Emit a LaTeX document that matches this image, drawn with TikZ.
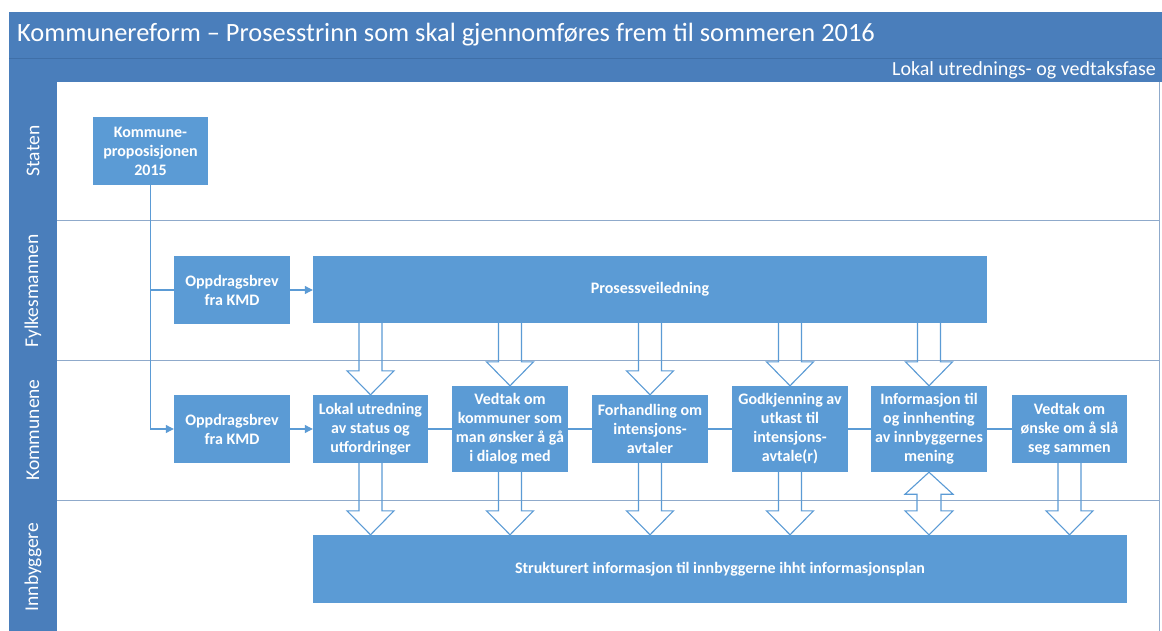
\documentclass[tikz,border=0pt]{standalone}
\usepackage{fontspec}
\setmainfont{Carlito}
\usetikzlibrary{calc,arrows.meta}
\definecolor{hdr}{HTML}{4A7EBB}
\definecolor{hdrdark}{HTML}{3F6FA8}
\definecolor{boxblue}{HTML}{5B9BD5}
\definecolor{lnblue}{HTML}{5B9BD5}
\definecolor{sepcol}{HTML}{8FAACB}
\newcommand\blkdown[2]{%
  \draw[blockarrow] let \p1=(#1), \p2=(#2) in
    (\x2-11.5pt,\y1) -- (\x2-11.5pt,\y2+24pt) -- (\x2-23.5pt,\y2+24pt) -- (\x2,\y2)
    -- (\x2+23.5pt,\y2+24pt) -- (\x2+11.5pt,\y2+24pt) -- (\x2+11.5pt,\y1);}
\begin{document}
\begin{tikzpicture}[x=1pt,y=-1pt,
  stepbox/.style={fill=boxblue, text=white, font=\fontsize{16}{19}\selectfont\bfseries,
    align=center, inner sep=0pt, minimum width=116pt, minimum height=68pt},
  tallbox/.style={stepbox, minimum height=86pt},
  lanelabel/.style={rotate=90, text=white, font=\fontsize{19.5}{22}\selectfont},
  conn/.style={draw=lnblue, line width=1.1pt},
  arr/.style={-{Triangle[length=8pt,width=8pt]}},
  blockarrow/.style={draw=lnblue, line width=1.1pt, line join=miter},
  sepline/.style={draw=sepcol, line width=0.9pt}]
\useasboundingbox (0,0) rectangle (1162,631);
\fill[white] (0,0) rectangle (1162,631);
% header bars and lane column
\fill[hdr] (9,12) rectangle (1162,82);
\draw[hdrdark, line width=0.8pt] (9,58) -- (1162,58);
\fill[hdr] (9,82) rectangle (57,631);
% lane separators and right border
\draw[sepline] (57,220) -- (1160,220);
\draw[sepline] (57,360) -- (1160,360);
\draw[sepline] (57,500) -- (1160,500);
\draw[sepline] (1159,82) -- (1159,631);
% header texts
\node[anchor=west, text=white, font=\fontsize{26.4}{30}\selectfont, inner sep=0pt] (title) at (17,35)
  {Kommunereform – Prosesstrinn som skal gjennomføres frem til sommeren 2016};
\node[anchor=east, text=white, font=\fontsize{20}{22}\selectfont, inner sep=0pt] (phase) at (1156,70)
  {Lokal utrednings- og vedtaksfase};
% lane labels
\node[lanelabel] (lstaten) at (33,151) {Staten};
\node[lanelabel] (lfylke) at (33,291) {Fylkesmannen};
\node[lanelabel] (lkomm) at (33,430) {Kommunene};
\node[lanelabel] (linnb) at (33,567) {Innbyggere};
% boxes
\node[stepbox, minimum width=115pt] (kp) at (150.5,151) {Kommune-\\proposisjonen\\2015};
\node[stepbox] (ob1) at (232,290) {Oppdragsbrev\\fra KMD};
\node[stepbox, minimum width=674pt, minimum height=67pt] (pv) at (650,289.5) {Prosessveiledning};
\node[stepbox] (ob2) at (232,429) {Oppdragsbrev\\fra KMD};
\node[stepbox, minimum width=115pt] (lok) at (370.5,429) {Lokal utredning\\av status og\\utfordringer};
\node[tallbox] (vk) at (510,429) {Vedtak om\\kommuner som\\man ønsker å gå\\i dialog med};
\node[stepbox] (fh) at (650,429) {Forhandling om\\intensjons-\\avtaler};
\node[tallbox] (gk) at (790,429) {Godkjenning av\\utkast til\\intensjons-\\avtale(r)};
\node[tallbox] (inf) at (929,429) {Informasjon til\\og innhenting\\av innbyggernes\\mening};
\node[stepbox, minimum width=115pt] (vo) at (1069.5,429) {Vedtak om\\ønske om å slå\\seg sammen};
\node[stepbox, minimum width=814pt] (str) at (720,569) {Strukturert informasjon til innbyggerne ihht informasjonsplan};
% connectors
\draw[conn, arr] (kp.south) |- (ob2.west);
\draw[conn] (kp.south |- ob1.west) -- (ob1.west);
\draw[conn, arr] (ob1.east) -- (ob1.east -| pv.west);
\draw[conn, arr] (ob2.east) -- (lok.west);
\draw[conn] (lok) -- (vk);
\draw[conn] (vk) -- (fh);
\draw[conn] (fh) -- (gk);
\draw[conn] (gk) -- (inf);
\draw[conn] (inf) -- (vo);
% block arrows from Prosessveiledning
\blkdown{pv.south}{lok.north}
\blkdown{pv.south}{vk.north}
\blkdown{pv.south}{fh.north}
\blkdown{pv.south}{gk.north}
\blkdown{pv.south}{inf.north}
% block arrows to Strukturert informasjon
\blkdown{lok.south}{str.north -| lok.south}
\blkdown{vk.south}{str.north -| vk.south}
\blkdown{fh.south}{str.north -| fh.south}
\blkdown{gk.south}{str.north -| gk.south}
\blkdown{vo.south}{str.north -| vo.south}
% double block arrow
\draw[blockarrow] let \p1=(inf.south), \p2=(str.north -| inf.south) in
  (\x1,\y1) -- (\x1+24pt,\y1-22pt) -- (\x1+12pt,\y1-22pt) -- (\x1+12pt,\y2+24pt)
  -- (\x1+24pt,\y2+24pt) -- (\x2,\y2) -- (\x1-24pt,\y2+24pt) -- (\x1-12pt,\y2+24pt)
  -- (\x1-12pt,\y1-22pt) -- (\x1-24pt,\y1-22pt) -- cycle;
\end{tikzpicture}
\end{document}
